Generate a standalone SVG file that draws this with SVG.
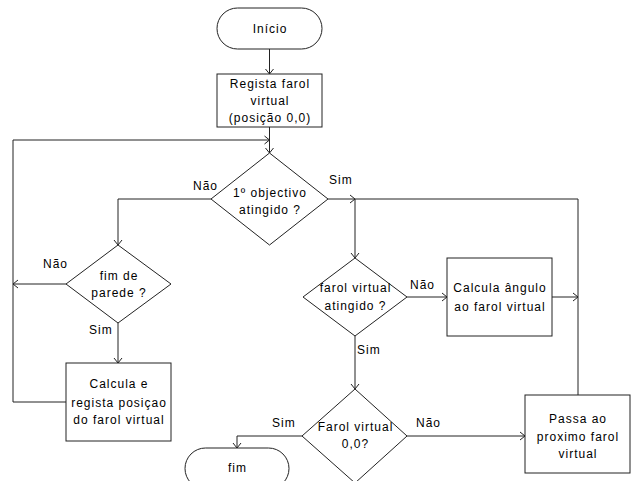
<svg xmlns="http://www.w3.org/2000/svg" width="636" height="481" viewBox="0 0 636 481">
<style>
.s{fill:#fff;stroke:#222;stroke-width:1}
.c{fill:none;stroke:#222;stroke-width:1}
text{font-family:"Liberation Sans",Arial,sans-serif;font-size:12px;letter-spacing:1px;fill:#000;text-anchor:middle}
.l{text-anchor:start}
</style>
<defs>
<marker id="a" viewBox="0 0 10 10" refX="8" refY="5" markerWidth="10" markerHeight="10" markerUnits="userSpaceOnUse" orient="auto">
<path d="M3,1 L8,5 L3,9" fill="none" stroke="#222" stroke-width="1"/>
</marker>
</defs>
<g id="connectors">
<path class="c" d="M269.5,49 V74" marker-end="url(#a)"/>
<path class="c" d="M269.5,127 V153" marker-end="url(#a)"/>
<path class="c" d="M66,402 H13 V140 H269.5" marker-end="url(#a)"/>
<path class="c" d="M211,199 H118 V245" marker-end="url(#a)"/>
<path class="c" d="M328,199 H355" marker-end="url(#a)"/>
<path class="c" d="M355,199 H578 V395"/>
<path class="c" d="M355,199 V258" marker-end="url(#a)"/>
<path class="c" d="M407,297 H447" marker-end="url(#a)"/>
<path class="c" d="M552,297 H578" marker-end="url(#a)"/>
<path class="c" d="M355,336 V389" marker-end="url(#a)"/>
<path class="c" d="M407,436 H525" marker-end="url(#a)"/>
<path class="c" d="M302,436 H237 V448" marker-end="url(#a)"/>
<path class="c" d="M66,284 H13" marker-end="url(#a)"/>
<path class="c" d="M118,323 V363" marker-end="url(#a)"/>
<text class="l" x="193" y="190">Não</text>
<text class="l" x="329" y="184">Sim</text>
<text class="l" x="410" y="289">Não</text>
<text class="l" x="357" y="354">Sim</text>
<text class="l" x="416" y="427">Não</text>
<text class="l" x="272" y="427">Sim</text>
<text class="l" x="43" y="268">Não</text>
<text class="l" x="89" y="334">Sim</text>
</g>
<g id="inicio">
<rect class="s" x="217" y="8" width="105" height="41" rx="20.5"/>
<text x="270" y="33">Início</text>
</g>
<g id="registra">
<rect class="s" x="217" y="74" width="105" height="53"/>
<text x="270" y="88">Regista farol</text>
<text x="270" y="105">virtual</text>
<text x="270" y="122">(posição 0,0)</text>
</g>
<g id="objectivo">
<polygon class="s" points="269.5,153 328,199 269.5,245 211,199"/>
<text x="270" y="197">1º objectivo</text>
<text x="270" y="214">atingido ?</text>
</g>
<g id="fimparede">
<polygon class="s" points="118,245 171,284 118,323 66,284"/>
<text x="119" y="280">fim de</text>
<text x="119" y="297">parede ?</text>
</g>
<g id="calcula_regista">
<rect class="s" x="66" y="363" width="105" height="78"/>
<text x="119" y="388">Calcula e</text>
<text x="119" y="407">regista posiçao</text>
<text x="119" y="424">do farol virtual</text>
</g>
<g id="farolatingido">
<polygon class="s" points="355,258 407,297 355,336 303,297"/>
<text x="355.5" y="292">farol virtual</text>
<text x="355.5" y="310">atingido ?</text>
</g>
<g id="calcula_angulo">
<rect class="s" x="447" y="258" width="105" height="78"/>
<text x="500" y="292">Calcula ângulo</text>
<text x="500" y="311">ao farol virtual</text>
</g>
<g id="farol00">
<polygon class="s" points="355,389 407,436 355,483 302,436"/>
<text x="355.5" y="431">Farol virtual</text>
<text x="355.5" y="448">0,0?</text>
</g>
<g id="passa">
<rect class="s" x="525" y="395" width="105" height="78"/>
<text x="578" y="423">Passa ao</text>
<text x="578" y="441">proximo farol</text>
<text x="578" y="458">virtual</text>
</g>
<g id="fim">
<rect class="s" x="185" y="448" width="104" height="41" rx="20.5"/>
<text x="237.5" y="472">fim</text>
</g>
</svg>
